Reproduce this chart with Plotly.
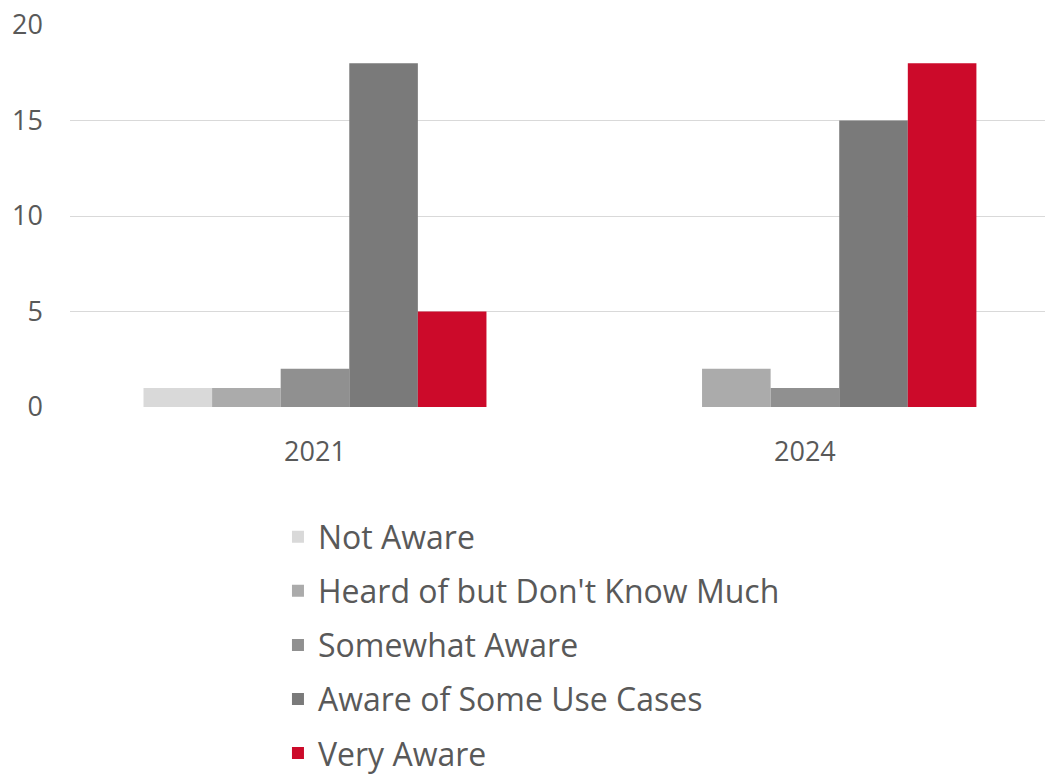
import plotly.graph_objects as go

# Survey responses by year
years = ["2021", "2024"]
not_aware = [1, 0]
heard_of = [1, 2]
somewhat_aware = [2, 1]
aware_use_cases = [18, 15]
very_aware = [5, 18]

series_names = [
    "Not Aware",
    "Heard of but Don't Know Much",
    "Somewhat Aware",
    "Aware of Some Use Cases",
    "Very Aware",
]
series_values = [not_aware, heard_of, somewhat_aware, aware_use_cases, very_aware]
series_colors = ["#d9d9d9", "#ababab", "#909090", "#7a7a7a", "#cc0a2a"]

TEXT = "#595959"
FONT = "Open Sans"

fig = go.Figure()
for name, vals, col in zip(series_names, series_values, series_colors):
    fig.add_trace(go.Bar(
        name=name, x=years, y=vals,
        marker=dict(color=col, line=dict(width=0)),
        legendgroup=name,
    ))

fig.update_layout(
    width=1045, height=781,
    margin=dict(l=70, r=0, t=25, b=374),
    paper_bgcolor="white", plot_bgcolor="white",
    barmode="group", bargap=0.3, bargroupgap=0,
    font=dict(family=FONT, color=TEXT),
    xaxis=dict(
        type="category", range=[-0.5, 1.49],
        showgrid=False, zeroline=False,
        showline=False, ticks="",
        tickfont=dict(size=27, color=TEXT, family=FONT),
        ticklabelstandoff=26,
    ),
    yaxis=dict(
        range=[0, 20], dtick=5, tick0=0,
        showgrid=True, gridcolor="#d9d9d9", gridwidth=1,
        zeroline=False, showline=False, ticks="",
        tickfont=dict(size=27, color=TEXT, family=FONT),
        ticklabelstandoff=26,
    ),
    legend=dict(
        orientation="v", traceorder="grouped",
        x=0.2133, xanchor="left", y=-0.9775, yanchor="bottom",
        font=dict(size=32, color=TEXT, family=FONT),
        tracegroupgap=9.5, itemwidth=30,
        bgcolor="rgba(0,0,0,0)",
    ),
    showlegend=True,
)

fig.write_html("out.html")
